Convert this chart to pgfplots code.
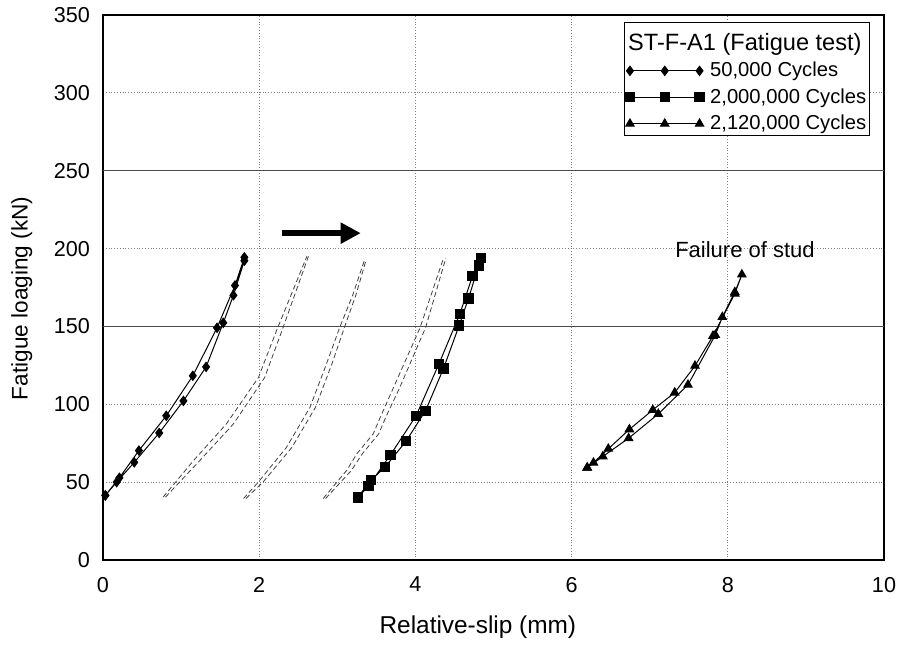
\documentclass[border=0pt]{standalone}
\usepackage{pgfplots}
\pgfplotsset{compat=1.18}
\usepackage{fontspec}
\setmainfont{Liberation Sans}
\usetikzlibrary{arrows.meta}

\begin{document}
\begin{tikzpicture}
\begin{axis}[
 name=ax,
 at={(0,0)}, anchor=south west,
 scale only axis,
 width=390.5pt, height=272.5pt,
 xmin=0, xmax=10, ymin=0, ymax=350,
 xtick={0,2,4,6,8,10}, ytick={0,50,100,150,200,250,300,350},
 major tick length=0pt,
 axis line style={line width=1.2pt},
 grid=major,
 major grid style={densely dotted, gray, line width=0.5pt},
 extra y ticks={150,250},
 extra y tick labels={},
 extra y tick style={grid=major, major grid style={solid, black!70, line width=0.6pt}},
 tick label style={font=\fontsize{10.8}{12}\selectfont},
 /pgf/number format/assume math mode=true,
 xticklabel style={yshift=-5pt},
 yticklabel style={xshift=-3pt},
 xlabel={Relative-slip (mm)},
 ylabel={Fatigue loaging (kN)},
 xlabel style={font=\fontsize{12.2}{14}\selectfont, at={(axis description cs:0.48,-0.123)}, anchor=center},
 ylabel style={font=\fontsize{11.3}{14}\selectfont, at={(axis description cs:-0.104,0.48)}, anchor=center},
 legend style={at={(0.982,0.988)}, anchor=north east, draw=black, line width=0.7pt, fill=white,
   font=\fontsize{10.1}{12}\selectfont, inner sep=0.5pt, row sep=2.4pt,
   nodes={inner sep=1pt}},
 legend cell align=left,
 legend image code/.code={\draw[line width=0.5pt] plot coordinates {(0pt,0pt) (17.4pt,0pt) (34.8pt,0pt)};},
]
\addlegendimage{empty legend}
\addlegendentry{\fontsize{11.8}{13}\selectfont\hspace*{-39pt}\rule{0pt}{12.5pt}ST-F-A1 (Fatigue test)}

% 50,000 cycles
\addplot[black, line width=0.5pt, mark=diamond*, mark size=2.3pt, mark options={solid, fill=black}] coordinates {
 (0.03,41.5) (0.175,50) (0.40,62.7) (0.72,81.6) (1.03,102.2) (1.32,124) (1.54,152.3) (1.67,170) (1.81,192.2)
 (1.81,194.4) (1.69,176.3) (1.46,149.1) (1.15,118.3) (0.81,92.6) (0.46,70.3) (0.21,52.8) (0.03,41.5)
};
\addlegendentry{\hspace*{2pt}50,000 Cycles}

% 2,000,000 cycles
\addplot[black, line width=0.5pt, mark=square*, mark size=2.3pt, mark options={solid, fill=black}] coordinates {
 (3.26,40.1) (3.43,51.2) (3.61,59.6) (3.88,76.3) (4.13,95.9) (4.36,123) (4.56,150.6) (4.68,168) (4.81,189.1) (4.84,193.9)
 (4.73,182.2) (4.57,158.1) (4.30,125.8) (4.01,92.7) (3.68,67.5) (3.40,47.5) (3.26,40.1)
};
\addlegendentry{\hspace*{2pt}2,000,000 Cycles}

% 2,120,000 cycles
\addplot[black, line width=0.5pt, mark=triangle*, mark size=2.4pt, mark options={solid, fill=black}] coordinates {
 (6.20,59.3) (6.40,66.5) (6.73,78.2) (7.11,93.8) (7.49,112.5) (7.84,144.5) (7.93,156) (8.09,172) (8.18,183.3)
 (8.09,171) (7.81,143.9) (7.58,124.7) (7.32,107.5) (7.04,96.4) (6.74,83.9) (6.47,71.4) (6.28,62.5) (6.20,59.3)
};
\addlegendentry{\hspace*{2pt}2,120,000 Cycles}

% intermediate cycles (dashed)
\addplot[forget plot, black!75, line width=0.4pt, dash pattern=on 2.5pt off 1.5pt] coordinates {
 (0.77,40.4) (1.16,63.9) (1.58,87.4) (1.99,117.2) (2.22,147.1) (2.61,195)
};
\addplot[forget plot, black!75, line width=0.4pt, dash pattern=on 2.5pt off 1.5pt] coordinates {
 (0.80,40.4) (1.24,63.9) (1.67,87.4) (2.07,117.2) (2.29,147.1) (2.63,195)
};
\addplot[forget plot, black!75, line width=0.4pt, dash pattern=on 2.5pt off 1.5pt] coordinates {
 (1.80,39.5) (1.99,50.1) (2.35,72.4) (2.65,98) (2.86,125.8) (3.03,149.2) (3.20,170.5) (3.35,192.9)
};
\addplot[forget plot, black!75, line width=0.4pt, dash pattern=on 2.5pt off 1.5pt] coordinates {
 (1.83,39.5) (2.05,50.1) (2.42,72.4) (2.72,98) (2.93,125.8) (3.09,149.2) (3.24,170.5) (3.37,192.9)
};
\addplot[forget plot, black!75, line width=0.4pt, dash pattern=on 2.5pt off 1.5pt] coordinates {
 (2.82,39.5) (3.12,57.5) (3.25,68.2) (3.46,81) (3.55,91.6) (3.72,110.8) (4.06,149.2) (4.36,193.9)
};
\addplot[forget plot, black!75, line width=0.4pt, dash pattern=on 2.5pt off 1.5pt] coordinates {
 (2.85,39.5) (3.18,57.5) (3.32,68.2) (3.53,81) (3.62,91.6) (3.80,110.8) (4.13,149.2) (4.39,193.9)
};

\draw[line width=3pt, -{Triangle[length=10pt, width=10pt]}] (axis cs:2.29,209.9) -- (axis cs:3.30,209.9);
\node[anchor=base, font=\fontsize{11}{13}\selectfont] at (axis cs:8.22,194.4) {Failure of stud};
\end{axis}
\pgfresetboundingbox
\path (-51.5pt,-44.5pt) rectangle (398pt,280pt);
\end{tikzpicture}
\end{document}
